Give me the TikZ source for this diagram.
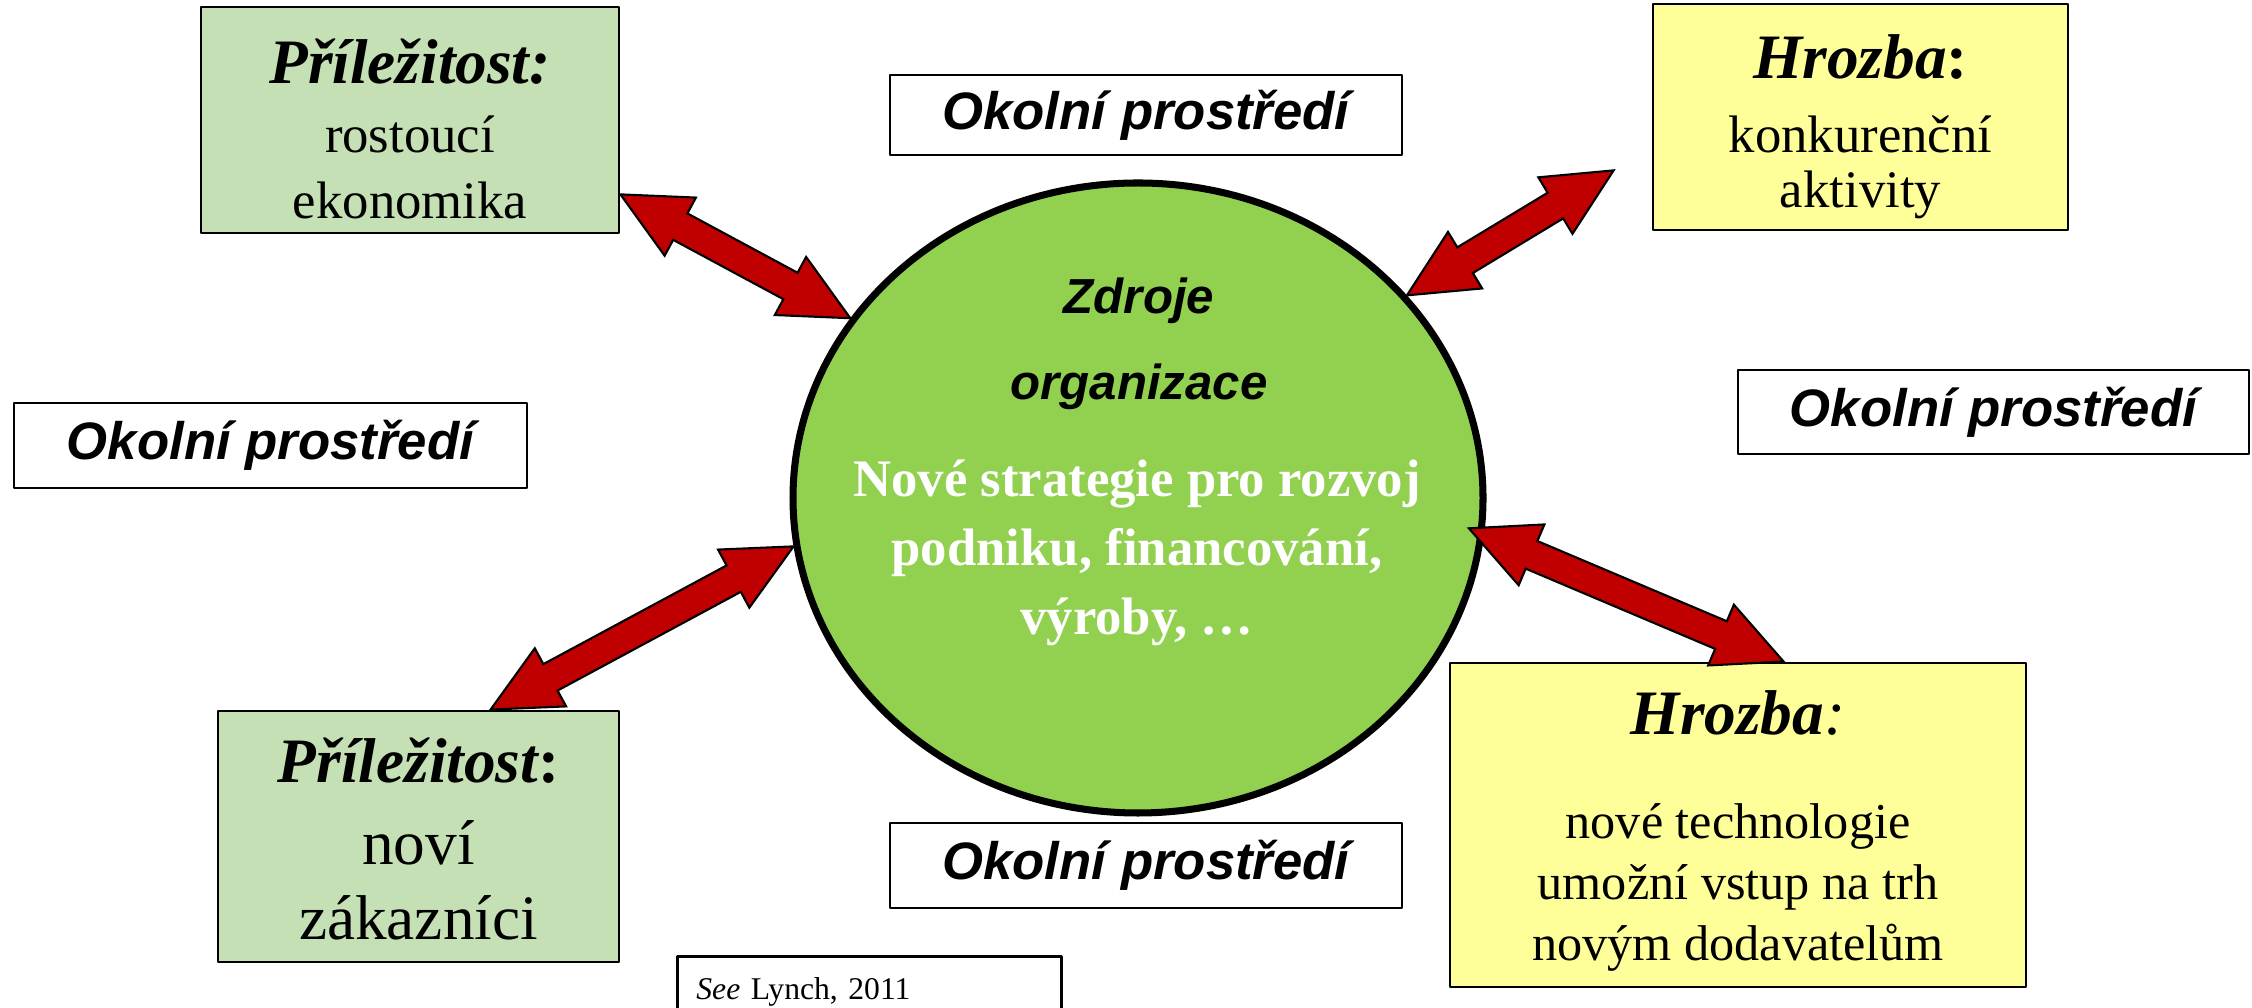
\documentclass[tikz,border=0pt]{standalone}
\usepackage{fontspec}
\setmainfont{Liberation Serif}
\setsansfont{Liberation Sans}
\usetikzlibrary{calc,positioning,shapes.geometric}

\definecolor{oppgreen}{HTML}{C5E0B4}
\definecolor{thryellow}{HTML}{FFFF99}
\definecolor{resgreen}{HTML}{92D050}
\definecolor{arrowred}{HTML}{C00000}

% block arrow with two heads
\newcommand{\headlen}{0.68cm}
\newcommand{\headwd}{0.33cm}
\newcommand{\shaftwd}{0.15cm}
\newcommand{\biarrow}[2]{%
    \coordinate (pa) at ($(#1)!\headlen!(#2)$);
    \coordinate (pb) at ($(#2)!\headlen!(#1)$);
    \filldraw[bigarrow] (#1)
        -- ($(pa)!\headwd!90:(#2)$) -- ($(pa)!\shaftwd!90:(#2)$)
        -- ($(pb)!\shaftwd!-90:(#1)$) -- ($(pb)!\headwd!-90:(#1)$)
        -- (#2)
        -- ($(pb)!\headwd!90:(#1)$) -- ($(pb)!\shaftwd!90:(#1)$)
        -- ($(pa)!\shaftwd!-90:(#2)$) -- ($(pa)!\headwd!-90:(#2)$)
        -- cycle;}

\begin{document}
\begin{tikzpicture}[line join=round,
    oppbox/.style={draw, line width=0.8pt, fill=oppgreen, inner sep=0pt},
    thrbox/.style={draw, line width=0.8pt, fill=thryellow, inner sep=0pt},
    boxtext/.style={align=center, inner sep=0pt},
    envbox/.style={draw, line width=0.8pt, fill=white, minimum width=5.12cm, minimum height=0.85cm,
        inner sep=0pt, font=\fontsize{15}{18}\selectfont\sffamily\bfseries\itshape},
    bigarrow/.style={fill=arrowred, draw=black, line width=0.6pt, line join=miter}]
    \useasboundingbox (0,0) rectangle (22.52,10.08);

    % organisation in the middle
    \node[ellipse, draw, line width=2pt, fill=resgreen, minimum width=6.9cm, minimum height=6.30cm] (res) at (11.38,5.10) {};
    \node[font=\fontsize{14}{24.5}\selectfont\sffamily\bfseries\itshape, align=center] (zdroje) at (11.39,6.64) {Zdroje\\organizace};
    \node[font=\fontsize{15}{19.6}\selectfont\bfseries, text=white, align=center] (strat) at (11.37,4.55) {Nové strategie pro rozvoj\\podniku, financování,\\výroby, …};

    % environment
    \node[envbox, minimum width=5.13cm] (envL) at (2.705,5.625) {Okolní prostředí};
    \node[envbox, minimum height=0.80cm] (envT) at (11.46,8.93) {Okolní prostředí};
    \node[envbox, minimum width=5.11cm, minimum height=0.84cm] (envR) at (19.935,5.96) {Okolní prostředí};
    \node[envbox] (envB) at (11.46,1.425) {Okolní prostředí};

    % opportunities and threats
    \node[oppbox, minimum width=4.18cm, minimum height=2.26cm] (opp1) at (4.10,8.88) {};
    \node[boxtext, font=\fontsize{15}{18.8}\selectfont] (opp1txt) at ($(opp1)+(0,-0.09)$)
        {{\fontsize{18}{20}\selectfont\bfseries\itshape Příležitost:}\\[0.8pt]rostoucí\\ekonomika};
    \node[thrbox, minimum width=4.15cm, minimum height=2.26cm] (thr1) at (18.605,8.91) {};
    \node[boxtext, font=\fontsize{15}{15.8}\selectfont] (thr1txt) at ($(thr1)+(0,-0.10)$)
        {{\fontsize{18}{20}\selectfont\bfseries\itshape Hrozba}{\fontsize{18}{20}\selectfont\bfseries:}\\[5pt]konkurenční\\aktivity};
    \node[oppbox, minimum width=4.01cm, minimum height=2.51cm] (opp2) at (4.185,1.715) {};
    \node[boxtext, font=\fontsize{18}{21.3}\selectfont] (opp2txt) at ($(opp2)+(0,-0.025)$)
        {{\fontsize{18}{20}\selectfont\bfseries\itshape Příležitost}{\fontsize{18}{20}\selectfont\bfseries:}\\[1.8pt]noví\\zákazníci};
    \node[thrbox, minimum width=5.76cm, minimum height=3.24cm] (thr2) at (17.38,1.83) {};
    \node[boxtext, font=\fontsize{14.3}{17.4}\selectfont] (thr2txt) at ($(thr2)+(0,-0.06)$)
        {{\fontsize{18}{20}\selectfont\bfseries\itshape Hrozba}{\fontsize{18}{20}\selectfont\itshape:}\\[12.2pt]nové technologie\\umožní vstup na trh\\novým dodavatelům};

    % source
    \node[draw, line width=0.8pt, fill=white, anchor=north west, text width=3.46cm, align=left,
        inner xsep=0.19cm, inner ysep=0pt, text height=0.43cm, text depth=1cm,
        font=\fontsize{9}{11}\selectfont] (src) at (6.76,0.53) {\textit{See} Lynch, 2011};

    % arrows between the organisation and its surroundings
    \coordinate (t1) at ($(opp1.south east)+(0,0.40)$);
    \coordinate (t2) at ($(thr1.south west)+(-0.38,0.61)$);
    \coordinate (t3) at ($(opp2.north west)+(2.74,0)$);
    \coordinate (t4) at ($(thr2.north west)+(3.35,0)$);
    \coordinate (r4) at ($(res.-5)+(-0.16,0)$);
    \biarrow{t1}{res.148}
    \biarrow{res.37}{t2}
    \biarrow{res.188}{t3}
    \biarrow{r4}{t4}
\end{tikzpicture}
\end{document}
